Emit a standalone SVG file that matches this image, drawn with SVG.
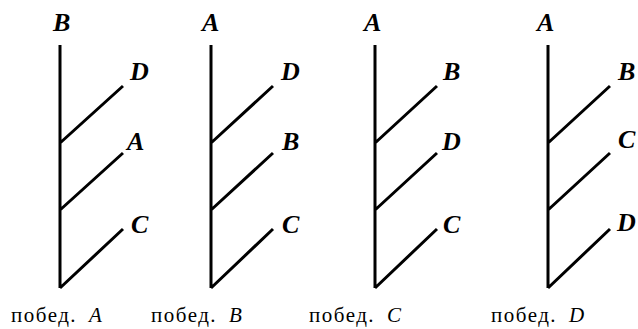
<svg xmlns="http://www.w3.org/2000/svg" width="638" height="329" viewBox="0 0 638 329">
<style>
.ln{stroke:#000;stroke-width:3;fill:none;stroke-linecap:butt}
.lb{font-family:"Liberation Serif",serif;font-style:italic;font-weight:bold;font-size:26px;fill:#000}
.cap{font-family:"Liberation Serif",serif;font-size:21px;letter-spacing:1.5px;fill:#000}
.cap tspan{font-style:italic}
</style>
<rect width="638" height="329" fill="#fff"/>
<g id="connectors">
<path class="ln" d="M60,45V288M60,143L123,86M60,210L123,153M60,288L123,229"/>
<path class="ln" d="M211,45V288M211,143L273,86M211,210L273,153M211,288L273,229"/>
<path class="ln" d="M375,45V288M375,143L437,86M375,210L437,153M375,288L437,229"/>
<path class="ln" d="M548,45V288M548,143L610,86M548,210L610,153M548,288L610,229"/>
</g>
<g id="tree1">
<text class="lb" x="53" y="31">B</text>
<text class="lb" x="130" y="80">D</text>
<text class="lb" x="127" y="150">A</text>
<text class="lb" x="131" y="233">C</text>
<text class="cap" x="11" y="322">побед. <tspan dx="5">A</tspan></text>
</g>
<g id="tree2">
<text class="lb" x="202" y="31">A</text>
<text class="lb" x="281" y="80">D</text>
<text class="lb" x="282" y="150">B</text>
<text class="lb" x="282" y="233">C</text>
<text class="cap" x="151" y="322">побед. <tspan dx="5">B</tspan></text>
</g>
<g id="tree3">
<text class="lb" x="364" y="31">A</text>
<text class="lb" x="443" y="80">B</text>
<text class="lb" x="442" y="150">D</text>
<text class="lb" x="443" y="233">C</text>
<text class="cap" x="309" y="322">побед. <tspan dx="5">C</tspan></text>
</g>
<g id="tree4">
<text class="lb" x="537" y="31">A</text>
<text class="lb" x="618" y="80">B</text>
<text class="lb" x="618" y="148">C</text>
<text class="lb" x="617" y="231">D</text>
<text class="cap" x="491" y="322">побед. <tspan dx="5">D</tspan></text>
</g>
</svg>
